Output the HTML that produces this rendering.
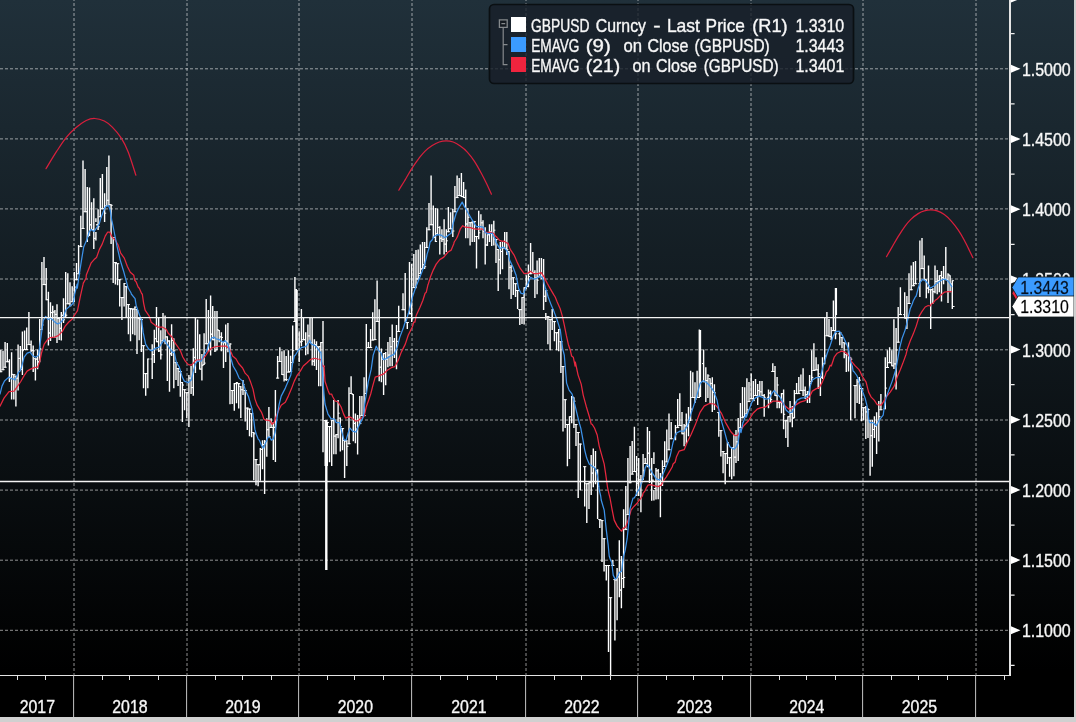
<!DOCTYPE html>
<html lang="en"><head><meta charset="utf-8"><title>GBPUSD Curncy - Weekly</title>
<style>
html,body{margin:0;padding:0;background:#000;overflow:hidden}
svg{display:block}
text{font-family:"Liberation Sans",sans-serif;font-size:17.7px;fill:#f8f8f8;stroke:#f8f8f8;stroke-width:.45px;stroke-opacity:.8}
text.k{stroke:#000;stroke-width:.3px;stroke-opacity:.6}
.gh{stroke:#fff;stroke-opacity:.56;stroke-width:1;stroke-dasharray:3 2;fill:none}
.gv{stroke:#fff;stroke-opacity:.56;stroke-width:1;stroke-dasharray:3 2;stroke-dashoffset:2;fill:none}
.ax{stroke:#e4e4e4;fill:none;shape-rendering:crispEdges}
.bar{stroke:#fff;stroke-width:1.4;fill:none}
.tk{stroke:#fff;stroke-width:1;fill:none}
.ln{fill:none;stroke-width:1.25;stroke-linejoin:round;stroke-linecap:round}
</style></head><body>
<svg width="1076" height="722" viewBox="0 0 1076 722">
<defs><linearGradient id="bg" x1="0" y1="0" x2="0" y2="1"><stop offset="0" stop-color="#20303a"/><stop offset="0.93" stop-color="#000"/><stop offset="1" stop-color="#000"/></linearGradient></defs>
<rect x="0" y="0" width="1076" height="722" fill="url(#bg)"/>
<path class="gh" d="M0 68.8H1009M0 138.9H1009M0 208.9H1009M0 279.0H1009M0 349.8H1009M0 420.0H1009M0 490.1H1009M0 560.2H1009M0 630.3H1009"/>
<path class="gv" d="M74 0V675M187 0V675M299 0V675M412 0V675M526 0V675M638 0V675M751 0V675M863 0V675M976 0V675"/>
<path class="bar" d="M0.8 350.1V372.2M3.0 350.7V370.2M5.1 342.1V367.7M7.3 343.1V362.2M9.4 359.2V382.0M11.6 352.2V399.6M13.8 374.2V399.6M15.9 375.7V406.6M18.1 344.6V390.6M20.3 346.1V370.2M22.4 331.6V375.0M24.6 330.6V350.1M26.7 327.6V350.1M28.9 312.0V345.1M31.1 340.6V352.2M33.2 345.6V372.0M35.4 358.2V380.5M37.6 349.6V369.2M39.7 319.0V362.2M41.9 262.0V330.1M44.0 257.0V285.1M46.2 268.1V300.2M48.4 291.7V345.6M50.5 302.2V341.1M52.7 305.7V337.6M54.9 310.0V338.1M57.0 304.2V343.1M59.2 317.2V340.1M61.3 312.0V340.6M63.5 298.2V323.0M65.7 271.9V317.2M67.8 273.2V304.2M70.0 282.2V306.2M72.2 286.2V302.2M74.3 272.1V302.2M76.5 263.0V280.2M78.6 245.1V274.2M80.8 215.7V247.1M83.0 160.5V229.0M85.1 169.1V212.2M87.3 187.1V242.1M89.5 187.6V236.1M91.6 202.2V230.0M93.8 198.2V249.1M95.9 218.3V222.0M95.9 232.0V240.6M98.1 209.2V230.0M100.3 178.1V217.2M102.4 174.1V209.2M104.6 193.2V222.0M106.8 167.1V206.2M108.9 155.5V205.2M111.1 204.2V244.1M113.2 237.1V283.0M115.4 262.1V284.5M117.6 263.2V285.2M119.7 279.2V306.6M121.9 297.1V320.1M124.1 283.0V306.6M126.2 286.2V318.1M128.4 304.1V334.2M130.5 308.1V341.2M132.7 308.6V334.2M134.9 306.6V335.2M137.0 309.1V354.0M139.2 318.1V340.2M141.4 319.1V352.0M143.5 345.2V388.2M145.7 373.1V395.7M147.8 358.5V388.2M152.2 344.2V379.1M154.3 329.7V363.1M156.5 307.1V342.2M158.7 317.1V352.0M160.8 330.2V359.6M163.0 313.1V341.2M165.1 315.6V344.2M167.3 336.2V381.1M169.5 340.2V391.7M171.6 324.2V356.0M173.8 338.2V388.2M176.0 362.1V380.1M178.1 368.1V386.1M180.3 371.1V396.7M182.4 382.1V422.1M184.6 389.2V410.2M186.8 392.2V418.0M188.9 375.1V427.1M191.1 366.1V394.0M193.3 348.3V395.7M195.4 318.1V373.1M197.6 319.6V361.1M199.7 334.2V369.6M201.9 354.0V380.6M204.1 333.2V365.1M206.2 299.1V344.2M208.4 310.1V352.0M210.6 295.6V355.5M212.7 306.1V340.2M214.9 311.1V352.0M217.0 311.1V350.2M219.2 330.1V342.2M221.4 332.2V351.2M223.5 342.2V368.0M225.7 324.6V362.0M227.9 323.1V352.2M230.0 343.2V404.2M232.2 390.0V404.1M234.3 383.1V410.7M236.5 382.1V403.2M238.7 383.1V408.6M240.8 386.1V418.1M243.0 380.1V395.1M245.2 390.0V421.6M247.3 407.6V430.1M249.5 408.6V436.2M251.6 413.2V437.2M253.8 432.0V480.2M256.0 459.1V485.2M258.1 464.2V486.2M260.3 448.1V480.7M262.5 440.2V469.2M264.6 440.1V494.0M266.8 418.2V456.7M268.9 407.1V437.1M271.1 418.2V428.0M273.3 422.0V460.1M275.4 390.1V462.1M277.6 356.0V378.6M279.8 347.2V362.0M281.9 351.2V375.1M284.1 350.2V381.6M286.2 356.0V381.1M288.4 350.2V372.6M290.6 355.7V372.1M292.7 325.6V363.0M294.9 277.1V322.0M297.1 290.0V350.2M299.2 331.2V362.0M301.4 309.1V346.2M303.5 318.1V340.2M305.7 332.2V355.2M307.9 324.6V354.2M310.0 317.6V343.2M312.2 317.2V365.5M314.4 339.2V366.0M316.5 341.2V370.1M318.7 346.2V386.2M320.8 342.1V386.2M323.0 321.1V452.2M325.2 420.1V466.0M327.3 422.1V466.0M329.5 426.1V462.3M331.7 420.1V466.0M333.8 400.0V454.2M336.0 434.1V454.2M338.1 400.0V438.2M340.3 417.6V451.5M342.5 428.1V450.2M344.6 440.0V478.1M346.8 440.0V466.0M349.0 387.2V444.2M351.1 376.2V394.0M353.3 394.0V441.2M355.4 413.6V443.2M357.6 415.1V454.6M359.8 396.0V424.1M361.9 396.0V416.1M364.1 377.2V416.1M366.3 324.0V394.0M368.4 342.1V348.1M370.6 329.0V348.1M372.7 312.2V340.6M374.9 299.2V340.1M377.1 280.6V322.0M379.2 309.2V381.2M381.4 348.6V382.2M383.6 353.1V395.0M385.7 352.1V385.2M387.9 342.1V367.2M390.0 337.1V366.2M392.2 324.5V366.2M394.4 338.1V358.1M396.5 325.0V369.2M398.7 305.7V332.0M403.0 293.2V310.2M405.2 273.1V322.0M407.3 322.0V329.0M409.5 262.0V314.2M411.7 264.1V322.0M413.8 254.0V288.1M416.0 250.0V288.2M418.2 249.6V280.2M420.3 244.5V274.1M422.5 242.0V269.1M424.6 242.0V269.1M426.8 227.2V248.0M429.0 203.1V230.2M431.1 175.5V225.2M433.3 205.6V238.0M435.5 208.1V242.0M437.6 208.6V234.2M439.8 226.2V254.6M441.9 229.2V242.0M444.1 219.2V254.6M446.3 229.2V252.1M448.4 207.1V232.2M450.6 212.2V229.2M452.8 209.1V237.0M454.9 186.1V212.2M457.1 175.5V198.1M459.2 178.0V196.1M461.4 173.0V197.1M463.6 182.0V198.1M465.7 189.6V238.3M467.9 208.1V238.3M470.1 222.2V245.5M472.2 221.2V242.0M474.4 221.2V242.0M476.5 236.0V268.6M478.7 210.7V239.3M480.9 214.2V230.2M483.0 220.2V238.3M485.2 227.2V264.6M487.4 234.2V246.0M489.5 224.2V242.0M491.7 224.2V246.1M493.8 220.7V245.5M496.0 239.0V263.1M498.2 249.0V291.0M500.3 242.0V274.2M502.5 242.1V269.2M504.7 232.0V249.1M506.8 232.0V255.1M509.0 251.1V289.2M511.1 265.1V299.0M513.3 277.2V295.0M515.5 283.2V297.0M517.6 290.0V309.1M519.8 309.1V325.1M522.0 297.0V324.1M524.1 287.2V324.6M526.3 275.2V289.2M528.4 264.6V287.2M530.6 243.1V274.2M532.8 252.1V273.2M534.9 270.2V298.0M537.1 260.6V294.3M539.3 258.1V277.2M541.4 258.1V279.2M543.6 259.1V310.1M545.8 290.0V302.0M545.8 313.1V320.1M547.9 316.1V344.2M550.1 319.1V350.2M552.2 309.1V330.1M554.4 321.1V341.2M556.6 332.2V350.2M558.7 329.1V351.2M560.9 341.2V373.1M563.0 366.0V431.5M565.2 399.2V428.0M567.4 424.0V466.2M569.5 416.2V459.1M571.7 396.1V423.2M573.9 397.2V428.0M576.0 424.0V446.1M578.2 432.0V498.0M580.3 443.6V490.2M584.7 466.2V506.6M586.8 483.2V523.1M589.0 482.2V509.1M591.2 455.1V495.0M593.3 448.6V487.2M595.5 451.1V484.2M597.6 469.2V519.1M599.8 519.1V528.1M602.0 520.1V562.0M604.1 538.2V571.6M606.3 565.0V580.6M608.5 565.0V652.1M610.6 597.2V675.2M612.8 560.0V566.0M614.9 579.1V640.6M617.1 568.0V620.2M619.3 540.2V597.2M621.4 556.0V608.2M623.6 509.2V588.1M625.8 486.1V530.1M627.9 458.0V515.1M630.1 446.1V483.2M632.2 441.1V474.6M634.4 426.8V472.1M636.6 456.1V496.0M638.7 458.0V496.0M640.9 475.1V512.2M643.1 454.1V480.1M645.2 458.0V464.0M647.4 427.1V467.2M649.5 431.1V483.1M651.7 458.0V500.7M653.9 452.2V464.0M653.9 490.0V500.5M656.0 468.0V499.5M658.2 469.0V499.2M660.4 473.1V517.2M662.5 460.3V486.1M664.7 441.2V467.0M666.8 429.6V462.3M669.0 413.6V450.2M671.2 422.1V439.2M675.5 425.1V440.2M677.7 399.0V428.1M679.8 393.2V426.1M682.0 412.1V434.2M684.1 424.1V446.2M686.3 413.6V444.2M688.5 407.1V436.2M690.6 370.7V421.1M692.8 372.2V398.0M695.0 382.2V403.0M697.1 370.7V398.0M699.3 329.5V398.0M703.6 349.6V382.2M705.8 367.2V402.0M707.9 374.2V398.0M710.1 378.2V403.0M712.3 377.2V412.1M714.4 384.2V410.1M718.8 412.1V436.7M720.9 430.1V456.6M723.1 451.1V473.2M725.2 453.1V484.2M727.4 442.2V464.0M729.6 457.2V476.7M731.7 447.1V479.2M733.9 434.2V476.2M736.0 430.1V463.1M738.2 418.1V461.1M740.4 403.0V428.1M742.5 387.1V418.2M744.7 387.2V417.1M746.9 378.2V414.1M749.0 382.1V402.1M751.2 373.5V399.1M753.3 381.1V401.1M755.5 379.0V396.1M757.7 384.1V405.1M759.8 381.1V396.1M762.0 381.1V396.1M764.2 394.1V416.7M768.5 389.6V408.2M770.6 390.6V403.1M772.8 363.2V372.0M775.0 366.0V396.1M777.1 377.0V408.2M779.3 402.1V408.2M781.5 393.1V413.2M783.6 389.6V429.2M785.8 420.2V438.0M787.9 416.2V447.1M790.1 401.1V422.2M792.3 406.1V427.2M794.4 390.1V418.2M796.6 383.1V394.1M798.8 377.0V394.1M800.9 374.5V391.1M803.1 368.3V396.1M805.2 386.6V399.1M807.4 391.1V403.1M809.6 375.0V403.1M811.7 350.2V382.1M813.9 343.2V371.0M816.1 357.2V370.3M818.2 364.2V389.1M820.4 376.0V396.1M822.5 357.2V379.0M824.7 317.7V364.2M826.9 312.0V336.2M829.0 319.1V337.1M831.2 327.1V340.1M833.4 300.6V331.1M835.5 288.1V339.3M839.8 332.1V345.2M842.0 337.1V348.2M844.2 342.2V358.2M846.3 354.2V372.0M848.5 342.2V371.5M850.7 357.2V420.2M855.0 385.1V418.2M857.1 379.0V403.1M859.3 377.0V404.1M861.5 388.1V421.2M863.6 407.2V420.2M865.8 406.1V439.1M868.0 408.2V438.0M870.1 420.0V475.7M872.3 420.0V466.7M874.4 416.2V438.0M876.6 412.2V454.1M878.8 401.1V441.6M880.9 394.1V410.2M885.3 357.2V409.2M887.4 350.2V368.0M889.6 347.2V363.2M891.8 350.2V366.3M893.9 319.2V369.0M896.1 328.1V389.6M898.2 307.1V342.7M900.4 287.2V315.1M904.7 292.2V318.6M906.9 296.0V329.1M909.0 273.2V304.0M911.2 265.6V290.2M913.4 262.1V286.2M915.5 261.1V284.2M919.9 240.5V297.0M922.0 238.0V269.1M924.2 255.6V280.2M926.3 279.2V298.2M928.5 265.6V293.2M930.7 289.2V329.1M932.8 288.2V304.0M935.0 265.6V293.2M937.2 270.1V294.2M939.3 275.2V292.2M941.5 271.1V301.5M943.6 266.1V284.2M945.8 247.1V280.2M948.0 273.2V303.0M950.1 275.2V292.2M952.3 280.2V309.0"/>
<path class="tk" d="M-0.8 371.7h1.6M0.8 371.7h1.6M1.4 369.7h1.6M3.0 369.7h1.6M3.5 367.2h1.6M5.1 367.2h1.6M5.7 361.7h1.6M7.3 361.7h1.6M7.8 361.7h1.6M9.4 378.1h1.6M10.0 378.1h1.6M11.6 374.3h1.6M12.2 374.7h1.6M13.8 374.7h1.6M14.3 376.2h1.6M15.9 378.2h1.6M16.5 378.2h1.6M18.1 358.4h1.6M18.7 358.4h1.6M20.3 369.4h1.6M20.8 369.4h1.6M22.4 350.7h1.6M23.0 349.6h1.6M24.6 349.6h1.6M25.1 349.6h1.6M26.7 349.6h1.6M27.3 344.6h1.6M28.9 344.6h1.6M29.5 344.6h1.6M31.1 350.5h1.6M31.6 350.5h1.6M33.2 350.9h1.6M33.8 358.7h1.6M35.4 359.1h1.6M36.0 359.1h1.6M37.6 362.0h1.6M38.1 361.7h1.6M39.7 348.8h1.6M40.3 329.6h1.6M41.9 325.0h1.6M42.4 284.6h1.6M44.0 284.6h1.6M44.6 284.6h1.6M46.2 299.7h1.6M46.8 299.7h1.6M48.4 333.0h1.6M48.9 333.0h1.6M50.5 312.6h1.6M51.1 312.6h1.6M52.7 312.0h1.6M53.3 312.0h1.6M54.9 314.4h1.6M55.4 314.4h1.6M57.0 318.4h1.6M57.6 318.4h1.6M59.2 328.3h1.6M59.7 328.3h1.6M61.3 315.3h1.6M61.9 315.3h1.6M63.5 319.8h1.6M64.1 316.7h1.6M65.7 315.2h1.6M66.2 303.7h1.6M67.8 303.7h1.6M68.4 303.7h1.6M70.0 305.7h1.6M70.6 301.7h1.6M72.2 299.2h1.6M72.7 299.2h1.6M74.3 287.1h1.6M74.9 279.7h1.6M76.5 279.7h1.6M77.0 273.7h1.6M78.6 273.7h1.6M79.2 246.6h1.6M80.8 246.6h1.6M81.4 228.5h1.6M83.0 228.5h1.6M83.5 211.7h1.6M85.1 211.7h1.6M85.7 211.7h1.6M87.3 236.6h1.6M87.9 235.6h1.6M89.5 224.8h1.6M90.0 224.8h1.6M91.6 229.5h1.6M92.2 229.5h1.6M93.8 238.4h1.6M94.3 238.4h1.6M95.9 224.8h1.6M96.5 224.8h1.6M98.1 226.7h1.6M98.7 216.7h1.6M100.3 216.7h1.6M100.8 208.7h1.6M102.4 208.7h1.6M103.0 208.7h1.6M104.6 213.2h1.6M105.2 205.7h1.6M106.8 200.3h1.6M107.3 200.3h1.6M108.9 204.7h1.6M109.5 204.7h1.6M111.1 205.3h1.6M111.6 237.6h1.6M113.2 237.6h1.6M113.8 262.6h1.6M115.4 262.6h1.6M116.0 263.7h1.6M117.6 263.7h1.6M118.1 279.7h1.6M119.7 279.7h1.6M120.3 297.6h1.6M121.9 297.6h1.6M122.5 297.6h1.6M124.1 283.5h1.6M124.6 286.7h1.6M126.2 286.7h1.6M126.8 304.6h1.6M128.4 304.6h1.6M128.9 308.6h1.6M130.5 308.6h1.6M131.1 309.1h1.6M132.7 309.1h1.6M133.3 309.1h1.6M134.9 307.1h1.6M135.4 309.6h1.6M137.0 310.9h1.6M137.6 318.6h1.6M139.2 318.6h1.6M139.8 319.6h1.6M141.4 319.6h1.6M141.9 345.7h1.6M143.5 345.7h1.6M144.1 373.6h1.6M145.7 373.6h1.6M146.2 373.6h1.6M147.8 359.0h1.6M150.6 359.0h1.6M152.2 354.5h1.6M152.7 354.5h1.6M154.3 338.7h1.6M154.9 338.7h1.6M156.5 341.7h1.6M157.1 341.7h1.6M158.7 350.9h1.6M159.2 350.9h1.6M160.8 354.8h1.6M161.4 340.7h1.6M163.0 340.7h1.6M163.5 340.7h1.6M165.1 336.9h1.6M165.7 336.9h1.6M167.3 341.0h1.6M167.9 341.0h1.6M169.5 353.8h1.6M170.0 353.8h1.6M171.6 340.3h1.6M172.2 340.3h1.6M173.8 350.8h1.6M174.4 362.6h1.6M176.0 362.6h1.6M176.5 368.6h1.6M178.1 368.6h1.6M178.7 371.6h1.6M180.3 371.6h1.6M180.8 382.6h1.6M182.4 385.0h1.6M183.0 389.7h1.6M184.6 389.7h1.6M185.2 392.7h1.6M186.8 392.7h1.6M187.3 392.7h1.6M188.9 378.1h1.6M189.5 378.1h1.6M191.1 387.6h1.6M191.7 387.6h1.6M193.3 357.4h1.6M193.8 357.4h1.6M195.4 362.0h1.6M196.0 360.6h1.6M197.6 360.6h1.6M198.1 360.6h1.6M199.7 369.1h1.6M200.3 369.1h1.6M201.9 365.6h1.6M202.5 364.6h1.6M204.1 363.1h1.6M204.6 343.7h1.6M206.2 343.7h1.6M206.8 343.7h1.6M208.4 342.6h1.6M209.0 342.6h1.6M210.6 334.2h1.6M211.1 334.2h1.6M212.7 339.7h1.6M213.3 339.7h1.6M214.9 350.8h1.6M215.4 349.7h1.6M217.0 329.6h1.6M217.6 330.6h1.6M219.2 336.9h1.6M219.8 336.9h1.6M221.4 337.4h1.6M221.9 342.7h1.6M223.5 342.7h1.6M224.1 342.7h1.6M225.7 341.1h1.6M226.3 341.1h1.6M227.9 345.8h1.6M228.4 345.8h1.6M230.0 344.0h1.6M230.6 390.5h1.6M232.2 390.5h1.6M232.7 390.5h1.6M234.3 383.6h1.6M234.9 383.6h1.6M236.5 382.6h1.6M237.1 383.6h1.6M238.7 383.6h1.6M239.2 386.6h1.6M240.8 389.7h1.6M241.4 389.7h1.6M243.0 384.4h1.6M243.6 390.5h1.6M245.2 390.5h1.6M245.7 408.1h1.6M247.3 408.1h1.6M247.9 409.1h1.6M249.5 409.1h1.6M250.0 413.7h1.6M251.6 413.7h1.6M252.2 432.5h1.6M253.8 433.8h1.6M254.4 459.6h1.6M256.0 459.6h1.6M256.5 464.7h1.6M258.1 464.7h1.6M258.7 464.7h1.6M260.3 449.4h1.6M260.9 449.4h1.6M262.5 444.6h1.6M263.0 444.6h1.6M264.6 441.4h1.6M265.2 441.4h1.6M266.8 429.7h1.6M267.3 429.7h1.6M268.9 436.6h1.6M269.5 427.5h1.6M271.1 427.5h1.6M271.7 427.5h1.6M273.3 427.3h1.6M273.8 427.3h1.6M275.4 415.8h1.6M276.0 378.1h1.6M277.6 378.1h1.6M278.2 361.5h1.6M279.8 361.5h1.6M280.3 361.5h1.6M281.9 374.6h1.6M282.5 374.6h1.6M284.1 379.5h1.6M284.6 379.5h1.6M286.2 379.7h1.6M286.8 372.1h1.6M288.4 372.1h1.6M289.0 371.6h1.6M290.6 371.6h1.6M291.1 362.5h1.6M292.7 350.7h1.6M293.3 321.5h1.6M294.9 321.5h1.6M295.5 321.5h1.6M297.1 349.7h1.6M297.6 349.7h1.6M299.2 341.9h1.6M299.8 341.9h1.6M301.4 341.3h1.6M301.9 339.7h1.6M303.5 339.7h1.6M304.1 339.7h1.6M305.7 344.1h1.6M306.3 344.1h1.6M307.9 335.9h1.6M308.4 335.9h1.6M310.0 342.7h1.6M310.6 342.7h1.6M312.2 361.2h1.6M312.8 361.2h1.6M314.4 344.7h1.6M314.9 344.7h1.6M316.5 346.8h1.6M317.1 346.8h1.6M318.7 346.7h1.6M319.2 346.7h1.6M320.8 342.6h1.6M321.4 342.6h1.6M323.0 366.4h1.6M323.6 420.6h1.6M325.2 420.6h1.6M325.7 422.6h1.6M327.3 422.6h1.6M327.9 426.6h1.6M329.5 426.6h1.6M330.1 426.6h1.6M331.7 420.6h1.6M332.2 420.6h1.6M333.8 436.1h1.6M334.4 436.1h1.6M336.0 434.6h1.6M336.5 434.6h1.6M338.1 413.2h1.6M338.7 418.1h1.6M340.3 426.7h1.6M340.9 428.6h1.6M342.5 428.6h1.6M343.0 440.5h1.6M344.6 440.9h1.6M345.2 440.9h1.6M346.8 446.4h1.6M347.4 443.7h1.6M349.0 443.7h1.6M349.5 393.5h1.6M351.1 393.5h1.6M351.7 394.5h1.6M353.3 423.4h1.6M353.8 423.4h1.6M355.4 429.2h1.6M356.0 429.2h1.6M357.6 419.3h1.6M358.2 419.3h1.6M359.8 423.6h1.6M360.3 415.6h1.6M361.9 415.6h1.6M362.5 415.6h1.6M364.1 415.6h1.6M364.7 393.5h1.6M366.3 386.6h1.6M366.8 347.6h1.6M368.4 347.6h1.6M369.0 347.6h1.6M370.6 347.6h1.6M371.1 340.1h1.6M372.7 340.1h1.6M373.3 339.6h1.6M374.9 339.6h1.6M375.5 321.5h1.6M377.1 321.5h1.6M377.6 321.5h1.6M379.2 367.2h1.6M379.8 367.2h1.6M381.4 359.3h1.6M382.0 359.3h1.6M383.6 353.6h1.6M384.1 353.6h1.6M385.7 359.2h1.6M386.3 359.2h1.6M387.9 355.1h1.6M388.4 355.1h1.6M390.0 346.7h1.6M390.6 346.7h1.6M392.2 341.4h1.6M392.8 341.4h1.6M394.4 350.8h1.6M394.9 350.8h1.6M396.5 341.4h1.6M397.1 331.5h1.6M398.7 331.5h1.6M401.4 309.7h1.6M403.0 309.7h1.6M403.6 309.7h1.6M405.2 320.3h1.6M405.7 322.5h1.6M407.3 322.5h1.6M407.9 313.7h1.6M409.5 313.7h1.6M410.1 313.7h1.6M411.7 318.8h1.6M412.2 287.6h1.6M413.8 287.6h1.6M414.4 287.6h1.6M416.0 278.9h1.6M416.6 278.9h1.6M418.2 275.5h1.6M418.7 273.6h1.6M420.3 269.7h1.6M420.9 268.6h1.6M422.5 264.8h1.6M423.0 264.8h1.6M424.6 266.7h1.6M425.2 247.5h1.6M426.8 247.5h1.6M427.4 229.7h1.6M429.0 229.7h1.6M429.5 224.7h1.6M431.1 224.7h1.6M431.7 224.7h1.6M433.3 237.5h1.6M433.9 237.5h1.6M435.5 241.5h1.6M436.0 233.7h1.6M437.6 227.4h1.6M438.2 227.4h1.6M439.8 238.3h1.6M440.3 238.3h1.6M441.9 239.4h1.6M442.5 239.4h1.6M444.1 244.1h1.6M444.7 244.1h1.6M446.3 240.8h1.6M446.8 231.7h1.6M448.4 231.7h1.6M449.0 228.7h1.6M450.6 228.7h1.6M451.2 228.7h1.6M452.8 231.0h1.6M453.3 211.7h1.6M454.9 211.7h1.6M455.5 197.6h1.6M457.1 197.6h1.6M457.6 195.6h1.6M459.2 195.6h1.6M459.8 195.6h1.6M461.4 196.6h1.6M462.0 196.6h1.6M463.6 197.6h1.6M464.1 197.6h1.6M465.7 224.0h1.6M466.3 224.0h1.6M467.9 217.3h1.6M468.5 222.7h1.6M470.1 222.7h1.6M470.6 222.7h1.6M472.2 221.7h1.6M472.8 221.7h1.6M474.4 221.7h1.6M474.9 236.5h1.6M476.5 236.5h1.6M477.1 236.5h1.6M478.7 232.8h1.6M479.3 229.7h1.6M480.9 222.8h1.6M481.4 222.8h1.6M483.0 231.3h1.6M483.6 231.3h1.6M485.2 245.0h1.6M485.8 245.0h1.6M487.4 234.7h1.6M487.9 234.7h1.6M489.5 231.7h1.6M490.1 231.7h1.6M491.7 234.1h1.6M492.2 234.1h1.6M493.8 230.2h1.6M494.4 239.5h1.6M496.0 239.5h1.6M496.6 249.5h1.6M498.2 259.7h1.6M498.7 259.7h1.6M500.3 251.5h1.6M500.9 251.5h1.6M502.5 247.9h1.6M503.1 247.9h1.6M504.7 248.6h1.6M505.2 248.6h1.6M506.8 249.7h1.6M507.4 251.6h1.6M509.0 267.4h1.6M509.5 267.4h1.6M511.1 271.0h1.6M511.7 277.7h1.6M513.3 277.7h1.6M513.9 283.7h1.6M515.5 283.7h1.6M516.0 290.5h1.6M517.6 290.5h1.6M518.2 309.6h1.6M519.8 309.6h1.6M520.4 309.6h1.6M522.0 297.5h1.6M522.5 297.5h1.6M524.1 287.7h1.6M524.7 287.7h1.6M526.3 286.4h1.6M526.8 286.4h1.6M528.4 276.6h1.6M529.0 273.7h1.6M530.6 273.7h1.6M531.2 272.7h1.6M532.8 272.7h1.6M533.3 272.7h1.6M534.9 278.1h1.6M535.5 278.1h1.6M537.1 280.2h1.6M537.7 276.7h1.6M539.3 276.7h1.6M539.8 276.7h1.6M541.4 275.8h1.6M542.0 275.8h1.6M543.6 296.3h1.6M544.1 296.3h1.6M545.8 290.5h1.6M546.3 316.6h1.6M547.9 316.6h1.6M548.5 319.6h1.6M550.1 319.6h1.6M550.6 319.6h1.6M552.2 309.6h1.6M552.8 321.6h1.6M554.4 321.6h1.6M555.0 332.7h1.6M556.6 332.7h1.6M557.1 332.7h1.6M558.7 329.6h1.6M559.3 341.7h1.6M560.9 341.7h1.6M561.4 366.5h1.6M563.0 366.5h1.6M563.6 399.7h1.6M565.2 399.7h1.6M565.8 424.5h1.6M567.4 424.5h1.6M567.9 424.5h1.6M569.5 416.7h1.6M570.1 416.7h1.6M571.7 396.6h1.6M572.3 397.7h1.6M573.9 401.2h1.6M574.4 424.5h1.6M576.0 424.5h1.6M576.6 432.5h1.6M578.2 432.5h1.6M578.7 444.1h1.6M580.3 444.1h1.6M583.1 466.7h1.6M584.7 466.7h1.6M585.2 483.7h1.6M586.8 483.7h1.6M587.4 483.7h1.6M589.0 482.7h1.6M589.6 482.7h1.6M591.2 473.1h1.6M591.7 473.1h1.6M593.3 467.1h1.6M593.9 467.1h1.6M595.5 470.5h1.6M596.0 470.5h1.6M597.6 486.3h1.6M598.2 519.6h1.6M599.8 519.6h1.6M600.4 520.6h1.6M602.0 520.6h1.6M602.5 538.7h1.6M604.1 538.7h1.6M604.7 565.5h1.6M606.3 565.5h1.6M606.9 565.5h1.6M608.5 565.5h1.6M609.0 597.7h1.6M610.6 597.7h1.6M611.2 565.5h1.6M612.8 565.5h1.6M613.3 579.6h1.6M614.9 580.0h1.6M615.5 580.0h1.6M617.1 576.9h1.6M617.7 576.9h1.6M619.3 590.1h1.6M619.8 590.1h1.6M621.4 578.5h1.6M622.0 578.5h1.6M623.6 577.5h1.6M624.2 529.6h1.6M625.8 529.6h1.6M626.3 514.6h1.6M627.9 514.6h1.6M628.5 482.7h1.6M630.1 482.7h1.6M630.6 474.1h1.6M632.2 474.1h1.6M632.8 471.6h1.6M634.4 471.6h1.6M635.0 471.6h1.6M636.6 483.2h1.6M637.1 483.2h1.6M638.7 479.9h1.6M639.3 479.9h1.6M640.9 482.8h1.6M641.5 479.6h1.6M643.1 470.3h1.6M643.6 463.5h1.6M645.2 463.5h1.6M645.8 463.5h1.6M647.4 453.2h1.6M647.9 453.2h1.6M649.5 474.2h1.6M650.1 474.2h1.6M651.7 480.2h1.6M652.3 480.2h1.6M653.9 488.6h1.6M654.4 488.6h1.6M656.0 470.8h1.6M656.6 470.8h1.6M658.2 484.0h1.6M658.8 484.0h1.6M660.4 483.9h1.6M660.9 483.9h1.6M662.5 468.7h1.6M663.1 466.5h1.6M664.7 466.5h1.6M665.2 461.8h1.6M666.8 461.8h1.6M667.4 449.7h1.6M669.0 449.7h1.6M669.6 438.7h1.6M671.2 438.7h1.6M673.9 438.7h1.6M675.5 434.0h1.6M676.1 427.6h1.6M677.7 427.6h1.6M678.2 425.6h1.6M679.8 425.6h1.6M680.4 425.6h1.6M682.0 433.7h1.6M682.5 433.7h1.6M684.1 425.9h1.6M684.7 425.9h1.6M686.3 426.1h1.6M686.9 426.1h1.6M688.5 422.1h1.6M689.0 420.6h1.6M690.6 409.1h1.6M691.2 397.5h1.6M692.8 397.5h1.6M693.4 397.5h1.6M695.0 399.1h1.6M695.5 397.5h1.6M697.1 397.5h1.6M697.7 397.5h1.6M699.3 363.6h1.6M702.0 363.6h1.6M703.6 381.7h1.6M704.2 381.7h1.6M705.8 380.5h1.6M706.3 380.5h1.6M707.9 375.9h1.6M708.5 378.7h1.6M710.1 383.4h1.6M710.7 383.4h1.6M712.3 392.3h1.6M712.8 392.3h1.6M714.4 392.9h1.6M717.1 412.6h1.6M718.8 412.6h1.6M719.3 430.6h1.6M720.9 430.6h1.6M721.5 451.6h1.6M723.1 451.6h1.6M723.6 453.6h1.6M725.2 453.6h1.6M725.8 453.6h1.6M727.4 442.7h1.6M728.0 457.7h1.6M729.6 457.7h1.6M730.1 457.7h1.6M731.7 447.6h1.6M732.3 447.6h1.6M733.9 457.2h1.6M734.4 457.2h1.6M736.0 441.8h1.6M736.6 441.8h1.6M738.2 430.6h1.6M738.8 427.6h1.6M740.4 427.6h1.6M740.9 417.7h1.6M742.5 417.7h1.6M743.1 416.6h1.6M744.7 416.6h1.6M745.3 413.6h1.6M746.9 409.7h1.6M747.4 401.6h1.6M749.0 401.6h1.6M749.6 398.6h1.6M751.2 398.6h1.6M751.7 398.6h1.6M753.3 400.6h1.6M753.9 395.6h1.6M755.5 395.6h1.6M756.1 395.6h1.6M757.7 390.6h1.6M758.2 390.6h1.6M759.8 391.8h1.6M760.4 391.8h1.6M762.0 395.6h1.6M762.6 395.6h1.6M764.2 397.3h1.6M766.9 397.3h1.6M768.5 393.1h1.6M769.0 393.1h1.6M770.6 399.6h1.6M771.2 371.5h1.6M772.8 371.5h1.6M773.4 371.5h1.6M775.0 395.6h1.6M775.5 395.6h1.6M777.1 385.0h1.6M777.7 402.6h1.6M779.3 402.6h1.6M779.9 402.6h1.6M781.5 393.7h1.6M782.0 393.7h1.6M783.6 414.3h1.6M784.2 420.7h1.6M785.8 420.7h1.6M786.3 420.7h1.6M787.9 416.7h1.6M788.5 416.7h1.6M790.1 413.3h1.6M790.7 413.3h1.6M792.3 418.3h1.6M792.8 417.7h1.6M794.4 402.2h1.6M795.0 393.6h1.6M796.6 393.6h1.6M797.2 393.6h1.6M798.8 393.6h1.6M799.3 390.6h1.6M800.9 390.6h1.6M801.5 390.6h1.6M803.1 390.3h1.6M803.6 390.3h1.6M805.2 394.6h1.6M805.8 394.6h1.6M807.4 392.0h1.6M808.0 392.0h1.6M809.6 383.3h1.6M810.1 381.6h1.6M811.7 377.4h1.6M812.3 370.5h1.6M813.9 370.5h1.6M814.5 369.8h1.6M816.1 369.8h1.6M816.6 369.8h1.6M818.2 373.9h1.6M818.8 376.5h1.6M820.4 377.2h1.6M820.9 377.2h1.6M822.5 363.9h1.6M823.1 363.7h1.6M824.7 356.1h1.6M825.3 335.7h1.6M826.9 335.7h1.6M827.4 335.7h1.6M829.0 336.6h1.6M829.6 336.6h1.6M831.2 337.8h1.6M831.8 330.6h1.6M833.4 330.6h1.6M833.9 330.6h1.6M835.5 333.8h1.6M838.2 333.8h1.6M839.8 332.6h1.6M840.4 337.6h1.6M842.0 337.6h1.6M842.6 342.7h1.6M844.2 343.8h1.6M844.7 354.7h1.6M846.3 354.7h1.6M846.9 354.7h1.6M848.5 356.0h1.6M849.1 357.7h1.6M850.7 359.2h1.6M853.4 385.6h1.6M855.0 385.6h1.6M855.5 385.6h1.6M857.1 381.8h1.6M857.7 381.8h1.6M859.3 380.2h1.6M859.9 388.6h1.6M861.5 388.6h1.6M862.0 407.7h1.6M863.6 407.7h1.6M864.2 407.7h1.6M865.8 411.9h1.6M866.4 411.9h1.6M868.0 409.5h1.6M868.5 420.5h1.6M870.1 435.7h1.6M870.7 435.7h1.6M872.3 429.5h1.6M872.8 429.5h1.6M874.4 426.1h1.6M875.0 426.1h1.6M876.6 422.1h1.6M877.2 422.1h1.6M878.8 416.6h1.6M879.3 409.7h1.6M880.9 409.7h1.6M883.7 408.7h1.6M885.3 388.1h1.6M885.8 367.5h1.6M887.4 367.5h1.6M888.0 362.7h1.6M889.6 362.7h1.6M890.1 362.7h1.6M891.8 365.8h1.6M892.3 365.8h1.6M893.9 363.9h1.6M894.5 363.9h1.6M896.1 350.0h1.6M896.6 342.2h1.6M898.2 342.2h1.6M898.8 314.6h1.6M900.4 314.6h1.6M903.1 314.6h1.6M904.7 318.1h1.6M905.3 318.1h1.6M906.9 318.0h1.6M907.4 303.5h1.6M909.0 303.5h1.6M909.6 289.7h1.6M911.2 289.7h1.6M911.8 285.7h1.6M913.4 285.7h1.6M913.9 283.7h1.6M915.5 283.7h1.6M918.3 283.7h1.6M919.9 281.0h1.6M920.4 268.6h1.6M922.0 268.6h1.6M922.6 268.6h1.6M924.2 279.7h1.6M924.7 279.7h1.6M926.3 288.1h1.6M926.9 288.1h1.6M928.5 286.0h1.6M929.1 289.7h1.6M930.7 289.7h1.6M931.2 289.7h1.6M932.8 291.7h1.6M933.4 291.7h1.6M935.0 281.4h1.6M935.6 281.4h1.6M937.2 280.7h1.6M937.7 280.7h1.6M939.3 275.7h1.6M939.9 275.7h1.6M941.5 277.6h1.6M942.0 277.6h1.6M943.6 279.1h1.6M944.2 279.1h1.6M945.8 279.6h1.6M946.4 279.6h1.6M948.0 274.7h1.6M948.5 275.7h1.6M950.1 284.0h1.6M950.7 284.0h1.6M952.3 280.7h1.6M952.3 306.5h2.2"/>
<path d="M326.3 420V570" stroke="#fff" stroke-width="2.4" fill="none"/>
<path d="M296.1 289V350" stroke="#fff" stroke-width="1.8" fill="none"/>
<path d="M836.2 288V315" stroke="#fff" stroke-width="1.7" fill="none"/>
<path d="M700.2 330V397" stroke="#fff" stroke-width="1.9" fill="none"/>
<path class="ln" stroke="#e8283f" d="M0.0 406.1L4.0 398.1L9.0 391.6L14.1 391.1L17.6 386.1L20.8 381.5L24.1 375.6L27.1 371.1L30.1 369.4L34.1 367.7L37.6 367.2L39.6 362.2L41.7 352.2L44.2 344.1L47.2 340.1L50.2 337.6L54.7 337.1L58.2 335.6L62.2 331.6L65.2 326.1L68.8 322.0L72.3 319.0L73.8 316.2L75.3 314.0L77.5 310.6L80.4 296.1L83.1 284.2L83.3 283.1L86.1 278.2L86.3 275.1L88.7 269.1L91.2 262.8L94.1 259.6L96.5 257.6L99.3 249.6L102.2 244.1L105.2 236.1L107.7 232.0L109.7 232.0L112.2 237.1L115.2 240.1L118.2 245.1L120.7 253.1L124.3 258.1L127.3 266.2L130.3 272.2L133.8 275.2L134.6 280.0L136.3 282.2L138.1 287.0L139.3 288.2L141.6 293.6L142.3 294.0L143.6 303.1L145.1 310.1L149.2 316.1L151.2 322.2L155.2 325.2L158.2 327.2L162.7 327.2L166.2 329.2L168.2 333.2L172.2 337.2L175.2 343.2L177.3 346.0L180.3 350.6L182.8 357.0L185.3 361.1L188.3 364.6L191.3 365.1L193.3 363.1L195.8 360.1L199.3 360.1L202.3 359.0L205.4 356.0L208.4 351.5L211.4 348.1L216.0 346.5L221.0 346.2L226.0 346.2L229.0 348.2L231.1 352.2L232.6 356.0L234.1 357.2L236.1 359.0L238.6 363.5L242.6 368.0L245.1 373.1L248.1 376.1L250.6 382.1L253.0 389.1L255.0 399.1L257.2 405.2L258.4 407.1L260.2 410.2L261.4 412.1L262.7 415.2L263.8 418.9L265.4 420.1L267.2 420.2L270.1 420.9L272.2 424.3L274.2 422.2L276.2 416.2L278.7 410.2L281.2 405.2L285.3 402.2L288.3 396.1L291.3 389.1L294.3 381.1L297.3 375.1L300.3 371.1L303.3 366.0L307.3 362.5L310.3 359.6L313.4 358.5L314.4 358.3L317.9 359.0L320.8 359.3L322.7 366.6L324.0 365.7L325.0 381.2L328.0 390.3L329.5 394.0L331.6 394.0L332.6 396.5L335.1 401.0L338.1 402.0L341.1 407.0L343.6 414.1L345.6 418.1L349.1 416.6L352.1 418.1L355.6 421.1L358.1 420.6L361.2 418.1L364.2 416.1L366.2 407.0L368.7 400.0L370.7 394.0L372.7 386.2L375.2 377.2L378.2 376.2L383.2 374.2L387.3 370.2L391.3 367.7L394.8 366.7L398.3 360.1L401.3 352.1L405.3 344.1L408.3 335.0L412.3 327.0L413.8 322.0L414.9 322.0L416.3 315.2L419.9 307.6L422.9 300.2L425.1 293.2L426.3 292.2L428.1 284.2L428.3 284.1L430.2 277.6L433.2 270.1L436.2 264.1L439.8 259.6L443.8 257.1L446.8 253.5L448.0 252.0L451.2 250.1L453.7 244.0L454.2 242.0L456.2 239.0L457.7 236.1L460.2 229.2L462.7 225.7L465.2 227.2L470.3 227.7L475.3 229.2L480.3 229.2L483.3 229.2L485.3 232.2L489.3 232.7L490.0 232.0L493.7 233.4L495.4 236.0L496.7 237.1L499.6 240.3L502.4 241.3L503.7 241.0L507.6 243.6L508.0 243.1L510.1 249.1L514.1 255.1L517.1 262.1L520.1 268.2L524.1 273.7L528.1 273.2L530.1 271.2L534.2 273.7L538.2 273.7L541.2 272.7L544.2 277.2L547.2 283.2L550.2 288.6L553.7 294.6L555.2 297.0L557.2 302.0L560.3 309.1L562.3 316.1L564.3 325.1L566.3 335.2L568.3 344.2L570.3 350.2L571.6 356.0L573.3 357.2L575.1 366.0L575.3 362.0L578.1 375.1L581.2 384.1L583.2 395.1L586.2 406.2L589.2 416.2L591.2 424.0L592.2 424.3L594.5 428.0L597.2 435.0L599.2 446.1L601.7 455.1L604.2 464.1L605.7 474.2L607.5 487.1L608.8 493.3L610.0 498.0L612.2 510.1L614.2 520.1L617.2 526.1L620.1 529.6L621.7 531.2L623.0 528.3L625.6 527.2L628.4 519.2L630.3 513.1L631.0 510.2L633.3 507.1L635.1 505.2L637.3 503.0L639.1 500.2L640.3 499.0L642.4 496.0L643.1 493.1L644.9 491.1L646.2 488.1L648.0 485.2L650.1 484.6L654.1 485.6L658.1 486.6L661.2 485.1L663.2 481.1L666.2 477.1L669.2 472.1L672.2 467.0L673.1 464.0L675.2 462.0L676.4 457.1L679.1 451.2L684.2 449.7L687.2 442.2L691.2 434.2L695.2 425.1L698.2 417.1L700.2 412.1L704.2 406.1L709.3 403.5L714.3 404.0L717.3 407.1L721.3 413.1L725.3 422.1L729.3 429.1L731.1 432.0L732.3 433.2L734.1 435.0L735.4 435.7L737.1 435.5L738.4 434.2L739.9 431.4L741.4 429.1L744.2 425.2L748.5 420.7L753.0 413.2L757.1 409.2L761.1 407.7L765.1 407.2L769.1 404.1L773.1 401.1L778.1 401.1L782.2 402.1L785.2 406.1L789.2 409.2L792.2 408.2L796.2 404.6L800.2 402.1L805.2 400.6L809.3 397.1L812.3 391.1L816.3 388.6L819.3 387.6L822.3 382.1L825.3 375.0L826.2 372.0L828.3 370.0L830.2 365.2L831.3 366.0L834.2 357.2L837.2 353.2L841.3 351.2L845.3 352.2L849.3 356.2L851.3 361.2L855.0 365.6L859.0 369.6L860.3 372.0L862.1 376.0L866.1 382.1L868.6 392.1L871.2 397.1L874.2 400.1L877.2 404.6L881.2 405.1L883.2 402.1L886.2 397.1L890.2 392.1L894.2 386.1L897.2 377.0L900.4 369.5L902.7 363.6L906.1 354.2L907.6 348.2L910.1 341.2L913.2 334.1L916.2 326.1L919.2 316.1L922.2 311.1L925.2 307.0L928.2 305.5L930.2 306.0L931.2 304.0L933.2 303.0L935.2 300.3L937.2 299.0L940.3 295.6L944.3 292.2L948.3 291.7L951.3 291.7"/>
<path class="ln" stroke="#3c92ea" d="M0.0 394.1L2.0 386.1L4.5 381.0L8.8 377.1L12.0 379.0L13.0 378.8L15.1 380.0L16.6 376.6L18.6 372.2L20.1 371.0L21.3 368.1L24.1 357.2L27.1 353.2L30.1 352.2L32.6 355.7L35.6 357.2L38.6 355.2L40.7 339.1L43.2 320.5L45.7 316.4L47.2 318.3L48.2 319.5L50.2 318.3L51.2 318.5L54.2 321.4L57.2 323.8L60.2 322.9L63.2 319.5L64.7 313.1L66.2 309.4L70.3 305.7L73.3 303.2L74.7 294.1L77.1 284.2L77.3 288.1L79.4 273.6L81.5 260.1L83.7 247.0L87.1 239.1L89.1 232.0L91.1 229.5L94.1 231.5L97.7 226.2L99.2 224.0L100.7 218.6L104.2 209.2L106.2 206.2L108.7 205.7L110.2 210.2L111.7 220.1L112.2 222.0L114.2 232.0L117.2 247.1L120.2 260.1L123.3 270.2L125.9 279.6L128.1 288.0L128.3 288.2L131.1 293.0L131.3 294.0L135.1 298.6L136.1 305.1L139.1 314.1L141.6 320.1L143.1 332.2L145.6 344.1L148.7 349.1L151.7 350.9L155.2 348.4L159.2 347.1L161.2 344.1L164.2 339.7L167.0 344.1L169.7 348.1L172.7 352.6L174.2 352.0L176.3 362.1L179.3 367.1L182.3 377.1L184.3 381.1L188.3 382.6L191.3 380.1L193.3 371.1L195.3 364.1L197.3 361.1L201.3 361.1L203.4 356.0L206.4 351.5L208.4 345.1L211.4 338.2L214.4 337.2L216.0 338.9L219.5 339.7L223.0 342.2L225.0 340.7L228.0 344.2L230.1 354.2L231.1 359.0L233.1 366.0L236.1 371.1L239.1 378.1L242.6 381.1L245.1 389.1L245.3 390.0L248.1 396.1L248.3 396.0L250.6 404.2L252.0 408.6L253.7 419.4L254.9 429.4L256.3 434.2L258.2 439.1L259.4 440.2L261.3 445.1L263.5 448.2L265.8 442.1L266.9 440.2L268.2 437.1L270.0 437.2L271.2 440.1L273.2 439.1L275.2 432.0L276.2 425.0L277.2 416.2L279.2 404.2L281.2 396.1L285.3 388.1L288.3 381.1L290.8 375.1L292.5 364.0L294.3 356.0L295.3 355.2L298.3 350.2L301.3 347.7L305.3 346.7L307.3 344.7L309.8 340.2L311.4 344.2L315.4 345.7L318.2 349.2L320.0 352.1L320.9 352.2L322.0 367.1L324.0 394.0L325.0 404.0L328.0 414.1L331.0 418.6L334.6 419.1L336.1 422.6L339.6 422.6L341.6 431.1L344.1 440.2L346.1 440.2L348.1 433.1L350.1 428.1L352.6 431.1L356.1 432.1L358.1 427.1L360.2 423.1L363.2 417.1L364.7 404.0L366.4 394.0L368.2 382.2L371.2 369.2L373.2 355.1L376.2 346.1L378.2 350.1L381.2 353.1L383.2 359.6L386.3 358.6L390.3 356.1L394.3 354.1L397.3 347.1L399.8 337.1L403.3 328.0L405.2 322.0L405.8 322.0L409.6 309.1L412.7 296.2L415.7 287.2L418.7 280.1L421.7 272.6L424.5 265.1L426.3 258.0L427.1 254.1L429.0 248.0L430.1 242.0L432.1 240.0L434.1 236.2L435.1 236.0L437.1 234.7L441.2 235.2L445.2 237.8L448.2 235.2L451.2 233.2L453.2 223.2L456.2 213.2L459.2 207.1L462.2 202.1L464.2 206.1L468.3 213.2L472.3 220.2L476.3 226.7L480.3 226.7L483.3 227.2L485.3 232.7L488.3 233.7L490.0 233.5L492.3 233.2L493.2 235.5L494.9 238.3L496.2 242.7L499.7 248.3L503.7 247.1L506.7 250.6L508.0 253.1L509.6 260.1L513.1 267.2L516.1 275.2L518.6 288.6L521.1 293.4L523.6 293.9L525.1 289.6L528.1 283.2L530.7 277.2L534.2 279.2L537.2 278.2L540.2 275.7L542.7 278.2L545.2 287.2L546.2 290.0L548.2 297.0L551.2 305.1L554.2 312.1L557.2 320.1L560.3 330.1L562.7 349.1L564.3 355.2L565.2 366.5L566.6 383.1L569.1 390.1L572.1 394.1L574.6 403.7L577.6 416.2L579.6 424.0L580.8 428.1L583.2 441.1L584.7 450.1L586.7 458.1L589.2 464.1L592.2 466.2L595.2 468.2L597.5 475.7L599.2 489.6L600.7 496.0L601.2 500.0L604.2 510.1L606.2 529.1L608.2 545.2L609.2 556.0L610.7 560.6L611.7 562.0L613.2 575.1L615.2 579.1L617.2 577.6L619.2 572.6L621.7 571.1L622.7 561.5L623.7 556.0L625.2 550.2L627.2 538.2L628.6 524.4L629.9 509.1L631.3 504.1L633.0 498.1L634.3 498.0L635.4 496.0L637.2 492.1L639.3 489.1L640.1 487.1L642.0 480.6L643.9 476.2L645.1 468.0L646.5 465.1L648.0 465.2L650.1 469.0L653.1 474.1L656.1 478.6L659.6 480.1L662.2 476.1L665.2 469.0L667.6 463.0L670.1 456.1L673.1 442.2L676.1 433.2L680.1 431.1L684.2 431.1L687.2 426.1L690.2 416.1L693.2 407.1L696.2 398.0L698.2 390.6L700.2 383.2L703.2 380.7L706.2 382.2L709.3 385.2L712.3 389.2L714.3 392.0L714.8 394.3L717.0 400.0L720.3 417.1L724.4 431.1L727.2 441.6L730.2 447.1L733.1 448.6L734.3 449.2L736.1 447.1L738.0 443.6L740.0 428.2L741.0 432.7L743.0 422.2L743.4 422.1L746.0 414.2L746.4 417.1L748.5 411.1L752.0 402.1L755.1 398.1L758.6 396.1L762.1 397.1L765.1 399.1L769.1 398.6L772.1 393.1L774.1 390.6L777.1 394.1L780.1 397.1L783.2 403.1L786.2 410.2L789.2 412.7L792.2 412.2L794.7 406.1L797.2 400.1L801.2 398.1L805.2 397.6L808.3 395.1L810.3 386.1L812.3 380.1L816.3 377.5L820.3 377.5L821.7 372.0L823.8 364.1L827.2 353.2L830.2 345.2L833.2 336.1L835.7 331.6L839.3 331.1L842.3 335.1L845.3 341.2L848.3 348.2L850.4 361.6L852.3 366.2L853.1 371.0L854.3 372.0L857.1 376.0L859.6 383.1L862.1 390.1L865.1 398.1L867.1 406.1L868.6 418.2L869.6 422.7L873.2 422.7L876.2 425.7L879.2 420.2L883.2 415.2L884.7 404.1L886.2 397.1L889.2 389.1L892.2 381.1L895.7 370.0L897.2 362.1L899.6 348.2L902.1 338.2L905.1 330.1L907.4 321.1L910.1 309.0L912.2 304.0L913.2 301.0L915.2 297.2L916.2 296.0L918.2 288.2L920.2 282.2L922.2 279.7L924.7 280.2L927.2 282.7L930.2 288.2L934.2 285.7L938.3 282.2L942.3 279.7L945.3 279.2L948.3 281.2L950.3 284.2L951.8 286.7"/>
<path class="ln" stroke="#d81f3c" d="M46.0 168.7C47.7 165.9 52.8 157.4 56.1 152.2C59.5 147.0 62.8 141.7 66.1 137.6C69.4 133.5 72.8 130.4 76.1 127.6C79.4 124.8 83.1 122.0 86.2 120.5C89.3 119.0 91.7 118.4 94.7 118.5C97.7 118.6 101.4 119.6 104.3 121.0C107.2 122.4 109.5 124.2 112.3 127.1C115.1 129.9 118.6 133.9 121.3 138.1C124.0 142.3 125.9 146.0 128.3 152.2C130.7 158.4 134.6 171.4 135.9 175.2"/>
<path class="ln" stroke="#d81f3c" d="M398.8 190.2C400.0 188.2 403.9 181.9 406.1 178.2C408.3 174.5 409.9 171.4 412.1 168.1C414.3 164.8 416.9 160.9 419.1 158.1C421.3 155.3 422.9 153.2 425.1 151.1C427.3 149.0 429.9 147.1 432.2 145.6C434.5 144.1 436.9 142.8 439.2 142.0C441.5 141.2 443.9 140.8 446.2 140.8C448.5 140.8 450.8 141.1 453.2 142.0C455.6 142.9 457.9 144.4 460.3 146.1C462.7 147.8 465.0 149.6 467.3 152.1C469.6 154.6 472.0 157.6 474.3 161.1C476.6 164.6 479.3 169.5 481.3 173.2C483.3 176.9 484.7 179.7 486.4 183.2C488.1 186.7 490.6 192.4 491.4 194.2"/>
<path class="ln" stroke="#d81f3c" d="M886.5 256.7C887.6 254.8 891.0 248.8 893.1 245.2C895.2 241.6 897.1 238.3 899.1 235.1C901.1 231.9 903.1 228.8 905.1 226.1C907.1 223.4 908.9 221.2 911.1 219.1C913.3 217.0 916.0 215.0 918.2 213.6C920.4 212.2 922.1 211.5 924.2 210.9C926.3 210.3 928.5 209.9 930.7 209.9C932.9 209.9 934.9 210.1 937.2 210.9C939.5 211.7 941.9 212.9 944.3 214.6C946.6 216.3 949.0 218.5 951.3 221.1C953.6 223.7 956.1 226.9 958.3 230.1C960.5 233.3 962.5 236.8 964.3 240.2C966.1 243.5 967.9 247.3 969.3 250.2C970.7 253.1 972.3 256.4 972.9 257.7"/>
<path fill="none" stroke="#f4f4f4" stroke-width="1.3" d="M0 317.65H1009M0 481.5H1009"/>
<path class="ax" stroke-width="2" d="M1010 0V676"/>
<path class="ax" stroke-width="1" d="M0 675.5H1011"/>
<path fill="none" stroke="#f0f0f0" stroke-width="1.25" d="M1011 33.7h3.6M1011 103.9h3.6M1011 174.1h3.6M1011 244.3h3.6M1011 314.5h3.6M1011 384.6h3.6M1011 454.8h3.6M1011 525.0h3.6M1011 595.2h3.6M1011 665.4h3.6"/>
<path fill="#fff" d="M1011 -5.4L1020.5 -1.4L1011 2.6ZM1011 64.8L1020.5 68.8L1011 72.8ZM1011 135.0L1020.5 139.0L1011 143.0ZM1011 205.2L1020.5 209.2L1011 213.2ZM1011 275.4L1020.5 279.4L1011 283.4ZM1011 345.6L1020.5 349.6L1011 353.6ZM1011 415.7L1020.5 419.7L1011 423.7ZM1011 485.9L1020.5 489.9L1011 493.9ZM1011 556.1L1020.5 560.1L1011 564.1ZM1011 626.3L1020.5 630.3L1011 634.3Z"/>
<path class="ax" stroke-width="1" d="M17.5 675v5M45.5 675v5M102.5 675v5M129.5 675v5M158.5 675v5M215.5 675v5M242.5 675v5M271.5 675v5M327.5 675v5M354.5 675v5M383.5 675v5M440.5 675v5M467.5 675v5M496.5 675v5M554.5 675v5M581.5 675v5M610.5 675v5M666.5 675v5M693.5 675v5M722.5 675v5M779.5 675v5M806.5 675v5M835.5 675v5M891.5 675v5M918.5 675v5M947.5 675v5M1004.5 675v5"/>
<path fill="none" stroke="#c4c4c4" stroke-width="1" d="M73.6 675V717M186.6 675V717M298.6 675V717M411.6 675V717M525.6 675V717M637.6 675V717M750.6 675V717M862.6 675V717M975.6 675V717"/>
<text x="1021.88" y="75.8" textLength="48.83" lengthAdjust="spacingAndGlyphs">1.5000</text>
<text x="1021.88" y="145.9" textLength="48.83" lengthAdjust="spacingAndGlyphs">1.4500</text>
<text x="1021.88" y="215.9" textLength="48.83" lengthAdjust="spacingAndGlyphs">1.4000</text>
<text x="1021.88" y="286.0" textLength="48.83" lengthAdjust="spacingAndGlyphs">1.3500</text>
<text x="1021.88" y="356.8" textLength="48.83" lengthAdjust="spacingAndGlyphs">1.3000</text>
<text x="1021.88" y="427.0" textLength="48.83" lengthAdjust="spacingAndGlyphs">1.2500</text>
<text x="1021.88" y="497.1" textLength="48.83" lengthAdjust="spacingAndGlyphs">1.2000</text>
<text x="1021.88" y="567.2" textLength="48.83" lengthAdjust="spacingAndGlyphs">1.1500</text>
<text x="1021.88" y="637.3" textLength="48.83" lengthAdjust="spacingAndGlyphs">1.1000</text>
<text x="19.71" y="713.0" textLength="35.30" lengthAdjust="spacingAndGlyphs">2017</text>
<text x="112.31" y="713.0" textLength="35.30" lengthAdjust="spacingAndGlyphs">2018</text>
<text x="225.31" y="713.0" textLength="35.30" lengthAdjust="spacingAndGlyphs">2019</text>
<text x="337.81" y="713.0" textLength="35.14" lengthAdjust="spacingAndGlyphs">2020</text>
<text x="451.31" y="713.0" textLength="35.30" lengthAdjust="spacingAndGlyphs">2021</text>
<text x="564.31" y="713.0" textLength="35.30" lengthAdjust="spacingAndGlyphs">2022</text>
<text x="676.81" y="713.0" textLength="35.30" lengthAdjust="spacingAndGlyphs">2023</text>
<text x="789.31" y="713.0" textLength="34.97" lengthAdjust="spacingAndGlyphs">2024</text>
<text x="901.81" y="713.0" textLength="35.30" lengthAdjust="spacingAndGlyphs">2025</text>
<path fill="#f0243e" stroke="#10161b" stroke-width=".8" d="M1011.9 293.2L1018.2 282.7H1074V303.7H1018.2Z"/>
<text x="1020.29" y="299.6" textLength="48.69" lengthAdjust="spacingAndGlyphs" class="k" style="fill:#200000">1.3401</text>
<path fill="#3b9bff" stroke="#10161b" stroke-width=".8" d="M1011.9 287.5L1018.2 277.0H1074V298.0H1018.2Z"/>
<text x="1020.29" y="293.9" textLength="48.52" lengthAdjust="spacingAndGlyphs" class="k" style="fill:#061428">1.3443</text>
<path fill="#ffffff" stroke="#10161b" stroke-width=".8" d="M1011.9 306.5L1018.2 296.0H1074V317.0H1018.2Z"/>
<text x="1020.29" y="312.9" textLength="48.52" lengthAdjust="spacingAndGlyphs" class="k" style="fill:#000">1.3310</text>
<g>
<rect x="489.5" y="4.5" width="364" height="79" rx="4.5" ry="4.5" fill="#19202a" fill-opacity="0.82" stroke="#0a0f12" stroke-width="1.7"/>
<rect x="511" y="17" width="15" height="15" fill="#fff"/>
<rect x="511" y="37" width="15" height="15" fill="#3b9bff"/>
<rect x="511" y="57" width="15" height="15" fill="#f0243e"/>
<path d="M499.4 19.8h7.8v7.6h-7.8z" fill="#141a20" stroke="#85898c" stroke-width="1.3"/><path d="M501.4 23.6h3.8M503.2 28V64.6H507.5M503.2 44.6H507.5" fill="none" stroke="#85898c" stroke-width="1.2"/>
<text x="531.11" y="31.9" textLength="58.39" lengthAdjust="spacingAndGlyphs">GBPUSD</text>
<text x="595.81" y="31.9" textLength="50.25" lengthAdjust="spacingAndGlyphs">Curncy</text>
<text x="653.32" y="31.9" textLength="7.33" lengthAdjust="spacingAndGlyphs">-</text>
<text x="666.90" y="31.9" textLength="33.08" lengthAdjust="spacingAndGlyphs">Last</text>
<text x="705.62" y="31.9" textLength="39.35" lengthAdjust="spacingAndGlyphs">Price</text>
<text x="752.21" y="31.9" textLength="35.36" lengthAdjust="spacingAndGlyphs">(R1)</text>
<text x="795.38" y="31.9" textLength="48.83" lengthAdjust="spacingAndGlyphs">1.3310</text>
<text x="531.21" y="51.9" textLength="48.25" lengthAdjust="spacingAndGlyphs">EMAVG</text>
<text x="585.77" y="51.9" textLength="25.00" lengthAdjust="spacingAndGlyphs">(9)</text>
<text x="623.53" y="51.9" textLength="18.61" lengthAdjust="spacingAndGlyphs">on</text>
<text x="647.50" y="51.9" textLength="40.95" lengthAdjust="spacingAndGlyphs">Close</text>
<text x="694.58" y="51.9" textLength="75.13" lengthAdjust="spacingAndGlyphs">(GBPUSD)</text>
<text x="795.38" y="51.9" textLength="48.83" lengthAdjust="spacingAndGlyphs">1.3443</text>
<text x="531.21" y="71.8" textLength="48.25" lengthAdjust="spacingAndGlyphs">EMAVG</text>
<text x="585.84" y="71.8" textLength="34.28" lengthAdjust="spacingAndGlyphs">(21)</text>
<text x="632.55" y="71.8" textLength="18.06" lengthAdjust="spacingAndGlyphs">on</text>
<text x="656.00" y="71.8" textLength="40.95" lengthAdjust="spacingAndGlyphs">Close</text>
<text x="703.68" y="71.8" textLength="75.03" lengthAdjust="spacingAndGlyphs">(GBPUSD)</text>
<text x="795.38" y="71.8" textLength="49.00" lengthAdjust="spacingAndGlyphs">1.3401</text>
</g>
<rect x="1074" y="0" width="2" height="722" fill="#d0d0d0"/>
<rect x="0" y="717" width="1076" height="5" fill="#d0d0d0"/>
</svg></body></html>
